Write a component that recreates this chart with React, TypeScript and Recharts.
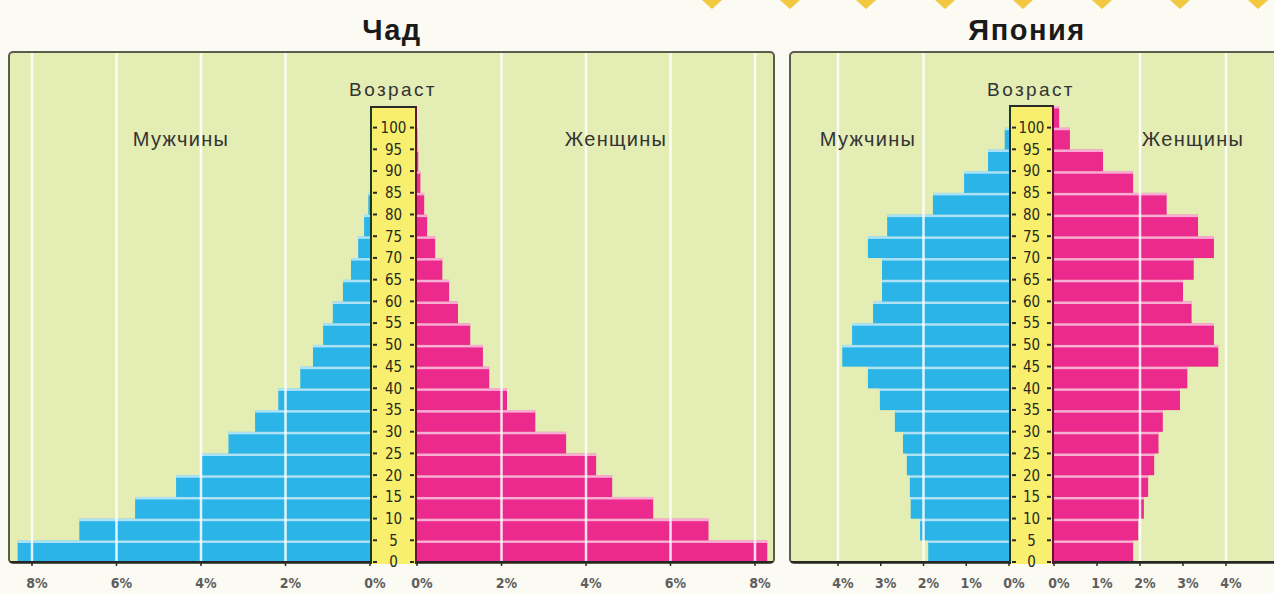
import React from 'react';
import { BarChart, Bar, XAxis, YAxis, ReferenceLine } from 'recharts';

// ---------- DATA ----------
const AGE_GROUPS = ['0-4', '5-9', '10-14', '15-19', '20-24', '25-29', '30-34', '35-39', '40-44', '45-49', '50-54', '55-59', '60-64', '65-69', '70-74', '75-79', '80-84', '85-89', '90-94', '95-99', '100+'];
const AGE_TICK_LABELS = ['0', '5', '10', '15', '20', '25', '30', '35', '40', '45', '50', '55', '60', '65', '70', '75', '80', '85', '90', '95', '100'];

const CHAD_MALE = [8.34, 6.88, 5.56, 4.59, 3.98, 3.35, 2.72, 2.17, 1.65, 1.35, 1.11, 0.88, 0.64, 0.45, 0.28, 0.14, 0.04, 0, 0, 0, 0];
const CHAD_FEMALE = [8.29, 6.9, 5.59, 4.62, 4.24, 3.53, 2.8, 2.13, 1.71, 1.56, 1.26, 0.97, 0.76, 0.6, 0.43, 0.24, 0.17, 0.08, 0.03, 0.01, 0];
const JAPAN_MALE = [1.89, 2.08, 2.3, 2.32, 2.39, 2.48, 2.67, 3.02, 3.3, 3.9, 3.67, 3.18, 2.97, 2.97, 3.3, 2.85, 1.78, 1.05, 0.49, 0.1, 0];
const JAPAN_FEMALE = [1.84, 1.96, 2.09, 2.19, 2.33, 2.43, 2.53, 2.93, 3.1, 3.82, 3.72, 3.2, 3.0, 3.25, 3.72, 3.35, 2.62, 1.84, 1.14, 0.37, 0.12];

const CHAD_TICKS = [0, 2, 4, 6, 8];
const CHAD_GRID = [2, 4, 6, 8];
const JAPAN_TICKS = [0, 1, 2, 3, 4];
const JAPAN_GRID = [2, 4];

const TITLES = { chad: 'Чад', japan: 'Япония' };
const LABEL_MEN = 'Мужчины';
const LABEL_WOMEN = 'Женщины';
const LABEL_AGE = 'Возраст';

const makeRows = (values: number[]) => AGE_GROUPS.map((age, i) => ({ age, value: values[i] }));

// ---------- STYLE / LAYOUT ----------
const BLUE = '#2bb4e8';
const PINK = '#ec2a8d';
const GREEN = '#e4edb4';
const YELLOW = '#f8ef6f';
const PLOT_TOP = 53;
const PLOT_H = 509; // plot bottom at 562
const AXIS_H = 34;
const BAND = 21.72;
const PAD_TOP = PLOT_H - 21 * BAND;
const MEN_RIGHT_MARGIN = 20;
const NARROW = "'Liberation Sans Narrow', 'DejaVu Sans Condensed', 'Liberation Sans', sans-serif";
const SANS = "'Liberation Sans', Arial, sans-serif";

const BarShape = (props: any) => {
  const { x, y, width, height, fill } = props;
  if (!width || Math.abs(width) < 0.01) return <g />;
  const x0 = width < 0 ? x + width : x;
  const w = Math.abs(width);
  const h = Math.abs(height);
  const y0 = (height < 0 ? y + height : y) - (BAND - h) / 2;
  return (
    <g>
      <rect x={x0} y={y0} width={w} height={BAND} fill={fill} />
      <rect x={x0} y={y0} width={w} height={2.5} fill="#ffffff" fillOpacity={0.62} />
    </g>
  );
};

const XTick = (props: any) => {
  const { x, y, payload } = props;
  return (
    <text x={x + 5} y={y + 20} textAnchor="middle" fontFamily={NARROW} fontWeight="bold" fontSize={14} fill="#5e5e5e">
      {`${payload.value}%`}
    </text>
  );
};

const makeAgeTick = (stripW: number) => (props: any) => {
  const { y, payload } = props;
  const idx = AGE_GROUPS.indexOf(payload.value);
  const yy = y + BAND / 2;
  return (
    <g>
      <line x1={3} x2={7} y1={yy} y2={yy} stroke="#2a2a2a" strokeWidth={2} />
      <line x1={stripW - 7} x2={stripW - 3} y1={yy} y2={yy} stroke="#2a2a2a" strokeWidth={2} />
      <text x={stripW / 2} y={yy} dy="0.36em" textAnchor="middle" fontFamily={NARROW} fontSize={15} fill="#2a2a1a">
        {AGE_TICK_LABELS[idx]}
      </text>
    </g>
  );
};

type HalfProps = {
  values: number[];
  color: string;
  side: 'men' | 'women';
  width: number; // plot width
  pxPerPct: number;
  ticks: number[];
  grid: number[];
  stripW?: number;
};

const Half = ({ values, color, side, width, pxPerPct, ticks, grid, stripW = 0 }: HalfProps) => {
  const data = makeRows(values);
  const max = width / pxPerPct;
  const isMen = side === 'men';
  const AgeTick = makeAgeTick(stripW);
  return (
    <BarChart
      width={width + (isMen ? MEN_RIGHT_MARGIN : stripW)}
      height={PLOT_H + AXIS_H}
      data={data}
      layout="vertical"
      margin={{ top: 0, right: isMen ? MEN_RIGHT_MARGIN : 0, bottom: 0, left: 0 }}
      barCategoryGap={0}
      barGap={0}
    >
      <XAxis
        type="number"
        dataKey="value"
        domain={[0, max]}
        ticks={ticks}
        reversed={isMen}
        allowDataOverflow
        height={AXIS_H}
        axisLine={{ stroke: '#262626', strokeWidth: 2 }}
        tickLine={{ stroke: '#262626', strokeWidth: 1.5 }}
        tickSize={4}
        tickMargin={2}
        tick={<XTick />}
        interval={0}
      />
      {isMen ? (
        <YAxis type="category" dataKey="age" reversed hide padding={{ top: PAD_TOP, bottom: 0 }} />
      ) : (
        <YAxis
          type="category"
          dataKey="age"
          reversed
          width={stripW}
          orientation="left"
          axisLine={false}
          tickLine={false}
          interval={0}
          tick={<AgeTick />}
          padding={{ top: PAD_TOP, bottom: 0 }}
        />
      )}
      <Bar dataKey="value" fill={color} isAnimationActive={false} shape={<BarShape />} />
      {grid.map((g) => (
        <ReferenceLine key={g} x={g} stroke="#ffffff" strokeOpacity={0.85} strokeWidth={2.5} />
      ))}
    </BarChart>
  );
};

const abs = (left: number, top: number, extra: React.CSSProperties = {}): React.CSSProperties => ({
  position: 'absolute',
  left,
  top,
  ...extra,
});

const CenteredText = ({ cx, cy, text, size, bold, spacing = 0, color = '#333333' }: any) => (
  <div
    style={abs(cx - 150, cy - size, {
      width: 300,
      height: size * 2,
      lineHeight: `${size * 2}px`,
      textAlign: 'center',
      fontFamily: SANS,
      fontSize: size,
      fontWeight: bold ? 'bold' : 'normal',
      letterSpacing: spacing,
      color,
      whiteSpace: 'nowrap',
    })}
  >
    {text}
  </div>
);

const Diamonds = () => {
  const xs = [712, 790, 866, 945, 1023, 1102, 1180, 1258];
  return (
    <svg style={abs(0, 0)} width={1274} height={20}>
      {xs.map((x) => (
        <polygon key={x} points={`${x - 10},0 ${x + 10},0 ${x},9`} fill="#f2c22e" opacity={0.9} />
      ))}
    </svg>
  );
};

export default function App() {
  return (
    <div style={{ position: 'absolute', left: 0, top: 0, width: 1274, height: 594, background: '#fbfaf3', overflow: 'hidden' }}>
      <Diamonds />
      {/* Chad panel */}
      <div style={abs(8, 51, { width: 767, height: 513, background: GREEN, border: '2px solid #5c5c4c', borderRadius: 5, boxSizing: 'border-box' })} />
      {/* Japan panel */}
      <div style={abs(789, 51, { width: 600, height: 513, background: GREEN, border: '2px solid #5c5c4c', borderRadius: 5, boxSizing: 'border-box' })} />

      {/* age strips */}
      <div style={abs(370, 106, { width: 47, height: 458, background: YELLOW, borderLeft: '2px solid #163a24', borderRight: '2px solid #6a1236', borderTop: '2px solid #2a2a2a', boxSizing: 'border-box' })} />
      <div style={abs(1009, 105, { width: 45, height: 459, background: YELLOW, borderLeft: '2px solid #163a24', borderRight: '2px solid #6a1236', borderTop: '2px solid #2a2a2a', boxSizing: 'border-box' })} />

      {/* Chad charts */}
      <div style={abs(10, PLOT_TOP)}>
        <Half values={CHAD_MALE} color={BLUE} side="men" width={360} pxPerPct={42.25} ticks={CHAD_TICKS} grid={CHAD_GRID} />
      </div>
      <div style={abs(370, PLOT_TOP)}>
        <Half values={CHAD_FEMALE} color={PINK} side="women" width={356} pxPerPct={42.25} ticks={CHAD_TICKS} grid={CHAD_GRID} stripW={47} />
      </div>

      {/* Japan charts */}
      <div style={abs(791, PLOT_TOP)}>
        <Half values={JAPAN_MALE} color={BLUE} side="men" width={218} pxPerPct={42.75} ticks={JAPAN_TICKS} grid={JAPAN_GRID} />
      </div>
      <div style={abs(1009, PLOT_TOP)}>
        <Half values={JAPAN_FEMALE} color={PINK} side="women" width={220} pxPerPct={43} ticks={JAPAN_TICKS} grid={JAPAN_GRID} stripW={45} />
      </div>

      {/* texts */}
      <CenteredText cx={392} cy={30} text={TITLES.chad} size={29} bold spacing={1.5} color="#1a1a1a" />
      <CenteredText cx={1027} cy={30} text={TITLES.japan} size={29} bold spacing={1.5} color="#1a1a1a" />
      <CenteredText cx={393} cy={90} text={LABEL_AGE} size={19} spacing={2.4} />
      <CenteredText cx={1031} cy={90} text={LABEL_AGE} size={19} spacing={2.4} />
      <CenteredText cx={181} cy={139} text={LABEL_MEN} size={20} spacing={1.3} />
      <CenteredText cx={616} cy={139} text={LABEL_WOMEN} size={20} spacing={1.3} />
      <CenteredText cx={868} cy={139} text={LABEL_MEN} size={20} spacing={1.3} />
      <CenteredText cx={1193} cy={139} text={LABEL_WOMEN} size={20} spacing={1.3} />
    </div>
  );
}
